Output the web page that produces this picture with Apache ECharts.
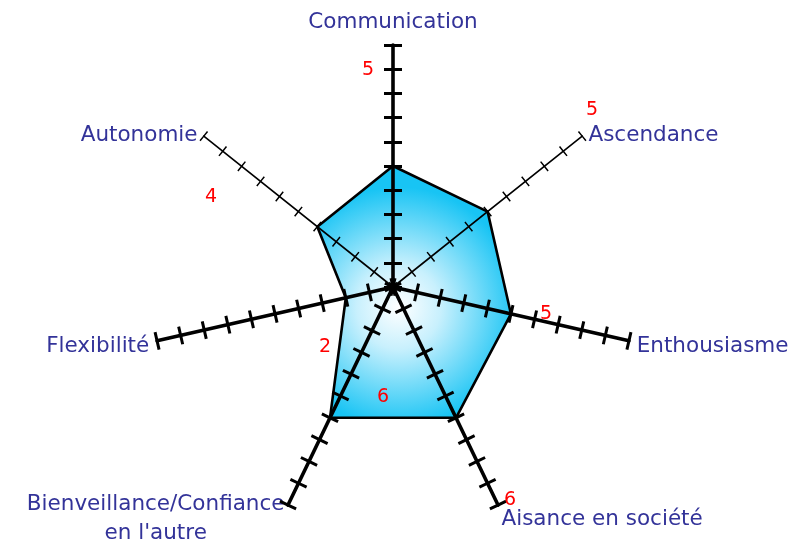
<!DOCTYPE html>
<html><head><meta charset="utf-8">
<script src="https://cdn.jsdelivr.net/npm/echarts@6/dist/echarts.min.js"></script>
<style>html,body{margin:0;padding:0;background:#fff}#c{width:800px;height:545px}</style>
</head><body><div id="c"></div>
<script>
// indicators listed counter-clockwise starting at the top (ECharts radar order)
const categories = ['Communication', 'Autonomie', 'Flexibilité', "Bienveillance/Confiance\nen l'autre", 'Aisance en société', 'Enthousiasme', 'Ascendance'];
const values = [5, 4, 2, 6, 6, 5, 5];
const axisMax = 10;
const splitCount = 10;
const thinAxes = ['Autonomie', 'Ascendance'];
const lowNames = ["Bienveillance/Confiance\nen l'autre", 'Aisance en société'];

const CENTER = [393, 287];
const RADIUS = 242;

function indicators(sign) {
  return categories.map(function (name) {
    const thin = thinAxes.indexOf(name) >= 0;
    return {
      name: name, min: 0, max: axisMax,
      axisLine: { lineStyle: { width: thin ? 1.6 : 3.6 } },
      axisTick: { length: sign * (thin ? 6 : 9), lineStyle: { width: thin ? 1.5 : 3 } }
    };
  });
}

const baseRadar = {
  center: CENTER, radius: RADIUS, startAngle: 90, shape: 'polygon',
  splitNumber: splitCount, z: 5,
  splitLine: { show: false }, splitArea: { show: false },
  axisLabel: { show: false }
};

const chart = echarts.init(document.getElementById('c'), null, { renderer: 'canvas' });
chart.setOption({
  animation: false,
  backgroundColor: '#ffffff',
  radar: [
    Object.assign({}, baseRadar, {
      indicator: indicators(1),
      axisLine: { show: true, lineStyle: { color: '#000' } },
      axisTick: { show: true, lineStyle: { color: '#000' } },
      nameGap: 8,
      axisName: {
        color: '#333399', fontFamily: 'DejaVu Sans', fontSize: 21.5,
        formatter: function (n) {
          const sp = lowNames.indexOf(n) >= 0 ? '{s14| }\n' : '{s8| }\n';
          return sp + n.split('\n').map(function (s) { return '{c|' + s + '}'; }).join('\n');
        },
        rich: {
          c: { align: 'center', color: '#333399', fontFamily: 'DejaVu Sans', fontSize: 21.5, lineHeight: 29 },
          s8: { fontSize: 4, lineHeight: 8 },
          s14: { fontSize: 4, lineHeight: 14 }
        }
      }
    }),
    Object.assign({}, baseRadar, {
      indicator: indicators(-1),
      axisLine: { show: false },
      axisTick: { show: true, lineStyle: { color: '#000' } },
      axisName: { show: false }
    })
  ],
  series: [{
    type: 'radar', radarIndex: 0, z: 2,
    symbol: 'none',
    lineStyle: { width: 0, opacity: 0 },
    areaStyle: {
      opacity: 1,
      color: {
        type: 'radial', x: 0.42, y: 0.56, r: 0.62,
        colorStops: [
          { offset: 0, color: '#ffffff' },
          { offset: 0.35, color: '#c8f0fd' },
          { offset: 1, color: '#18c4f4' }
        ]
      }
    },
    data: [{ value: values, name: 'Profil' }]
  }, {
    type: 'radar', radarIndex: 0, z: 3,
    symbol: 'none',
    lineStyle: { color: '#000', width: 2.6 },
    data: [{ value: values, name: 'Profil' }]
  }],
  graphic: [
    // red value annotations (text from the data array)
    [368, 70, 0], [211, 197, 1], [325, 347, 2], [383, 397, 3], [510, 500, 4], [546, 314, 5], [592, 110, 6]
  ].map(function (p) {
    return { type: 'text', x: p[0], y: p[1], z: 10,
      style: { text: String(values[p[2]]), fill: '#ff0000', fontSize: 19, fontFamily: 'DejaVu Sans', align: 'center', verticalAlign: 'middle' } };
  })
});
</script></body></html>
